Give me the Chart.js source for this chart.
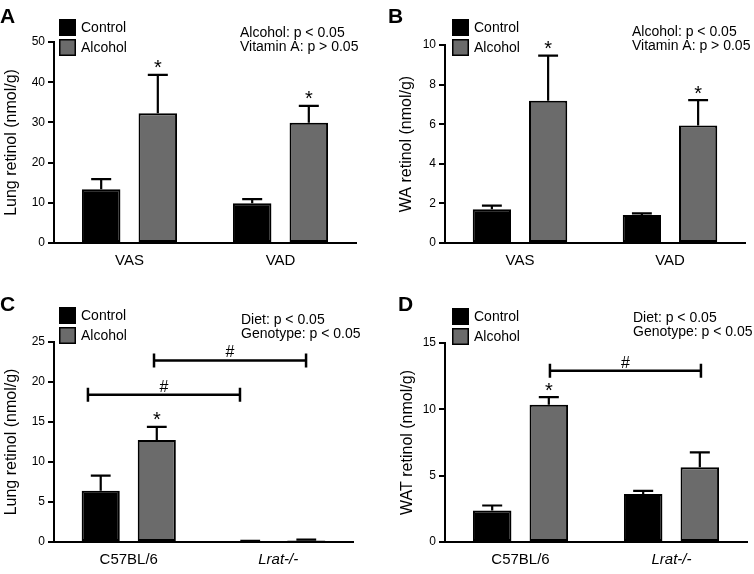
<!DOCTYPE html>
<html>
<head>
<meta charset="utf-8">
<script src="https://cdn.jsdelivr.net/npm/chart.js@4.4.0/dist/chart.umd.min.js"></script>
<style>
html,body{margin:0;padding:0;background:#fff;}
#wrap{position:relative;width:754px;height:574px;overflow:hidden;}
canvas{position:absolute;}
</style>
</head>
<body>
<div id="wrap">
<canvas id="cA" width="377" height="290" style="left:0;top:0;width:377px;height:290px"></canvas>
<canvas id="cB" width="377" height="290" style="left:377px;top:0;width:377px;height:290px"></canvas>
<canvas id="cC" width="377" height="284" style="left:0;top:290px;width:377px;height:284px"></canvas>
<canvas id="cD" width="377" height="284" style="left:377px;top:290px;width:377px;height:284px"></canvas>
</div>
<script>
// ---------- DATA ----------
const seriesNames = ['Control', 'Alcohol'];
const seriesColors = ['#000000', '#6b6b6b'];

const catsVitA = ['VAS', 'VAD'];
const catsGeno = ['C57BL/6', 'Lrat-/-'];
const catsGenoItalic = [false, true];

// Panel A: lung retinol, vitamin A status
const lungVitControl = [13.4, 9.9];
const lungVitControlErr = [2.5, 1.0];
const lungVitAlcohol = [32.3, 29.9];
const lungVitAlcoholErr = [9.5, 4.2];
const lungVitStars = [[false, false], [true, true]];
const lungVitTicks = [0, 10, 20, 30, 40, 50];
const lungVitStats = ['Alcohol: p < 0.05', 'Vitamin A: p > 0.05'];

// Panel B: WA retinol, vitamin A status
const waVitControl = [1.70, 1.41];
const waVitControlErr = [0.19, 0.09];
const waVitAlcohol = [7.19, 5.93];
const waVitAlcoholErr = [2.27, 1.29];
const waVitStars = [[false, false], [true, true]];
const waVitTicks = [0, 2, 4, 6, 8, 10];
const waVitStats = ['Alcohol: p < 0.05', 'Vitamin A: p > 0.05'];

// Panel C: lung retinol, genotype
const lungGenoControl = [6.4, 0.1];
const lungGenoControlErr = [1.9, 0.05];
const lungGenoAlcohol = [12.75, 0.2];
const lungGenoAlcoholErr = [1.65, 0.1];
const lungGenoStars = [[false, false], [true, false]];
const lungGenoTicks = [0, 5, 10, 15, 20, 25];
const lungGenoStats = ['Diet: p < 0.05', 'Genotype: p < 0.05'];
// brackets: [from (category index), to (category index), level (value)]
const lungGenoBrackets = [[-0.273, 0.744, 18.4], [0.169, 1.186, 22.7]];

// Panel D: WAT retinol, genotype
const watGenoControl = [2.37, 3.62];
const watGenoControlErr = [0.38, 0.23];
const watGenoAlcohol = [10.35, 5.63];
const watGenoAlcoholErr = [0.57, 1.12];
const watGenoStars = [[false, false], [true, false]];
const watGenoTicks = [0, 5, 10, 15];
const watGenoStats = ['Diet: p < 0.05', 'Genotype: p < 0.05'];
const watGenoBrackets = [[0.195, 1.195, 12.9]];

// ---------- RENDERING ----------
const FONT = '"Liberation Sans", Arial, Helvetica, sans-serif';
Chart.defaults.font.family = FONT;
Chart.defaults.color = '#000';

const decor = {
  id: 'decor',
  afterDatasetsDraw(chart, args, o) {
    const ctx = chart.ctx, ys = chart.scales.y, xs = chart.scales.x;
    ctx.save();
    ctx.strokeStyle = '#000';
    ctx.fillStyle = '#000';
    ctx.lineWidth = 2.2;
    chart.data.datasets.forEach((ds, i) => {
      const meta = chart.getDatasetMeta(i);
      meta.data.forEach((el, j) => {
        const v = ds.data[j], e = o.errors[i][j];
        const yTop = ys.getPixelForValue(v + e);
        const half = el.width * 0.26;
        ctx.beginPath();
        ctx.moveTo(el.x, el.y);
        ctx.lineTo(el.x, yTop);
        ctx.moveTo(el.x - half, yTop);
        ctx.lineTo(el.x + half, yTop);
        ctx.stroke();
        if (o.stars[i][j]) {
          ctx.font = '20px ' + FONT;
          ctx.textAlign = 'center';
          ctx.textBaseline = 'alphabetic';
          ctx.fillText('*', el.x, yTop - 0.5);
        }
      });
    });
    (o.brackets || []).forEach(b => {
      const x1 = xs.getPixelForValue(b[0]);
      const x2 = xs.getPixelForValue(b[1]);
      const y = ys.getPixelForValue(b[2]);
      ctx.lineWidth = 2.5;
      ctx.beginPath();
      ctx.moveTo(x1, y); ctx.lineTo(x2, y);
      ctx.moveTo(x1, y - 7); ctx.lineTo(x1, y + 7);
      ctx.moveTo(x2, y - 7); ctx.lineTo(x2, y + 7);
      ctx.stroke();
      ctx.font = '16px ' + FONT;
      ctx.textAlign = 'center';
      ctx.textBaseline = 'alphabetic';
      ctx.fillText('#', (x1 + x2) / 2, y - 3);
    });
    ctx.restore();
  },
  afterDraw(chart, args, o) {
    const ctx = chart.ctx;
    ctx.save();
    // panel letter
    ctx.font = 'bold 21px ' + FONT;
    ctx.textAlign = 'left';
    ctx.textBaseline = 'alphabetic';
    ctx.fillStyle = '#000';
    ctx.fillText(o.letter, o.letterX, o.letterY);
    // legend
    chart.data.datasets.forEach((ds, i) => {
      const y = o.legendY + i * 20;
      ctx.fillStyle = ds.backgroundColor;
      ctx.fillRect(o.legendX, y, 17, 17);
      ctx.strokeStyle = '#000';
      ctx.lineWidth = 1.5;
      ctx.strokeRect(o.legendX + 0.75, y + 0.75, 15.5, 15.5);
      ctx.fillStyle = '#000';
      ctx.font = '14px ' + FONT;
      ctx.textBaseline = 'middle';
      ctx.fillText(ds.label, o.legendX + 22, y + 9);
    });
    // stats text
    ctx.font = '14px ' + FONT;
    ctx.textBaseline = 'middle';
    o.stats.forEach((t, k) => ctx.fillText(t, o.statX, o.statY + k * 14.5));
    ctx.restore();
  }
};

function makePanel(p) {
  const canvas = document.getElementById(p.id);
  const W = canvas.width, H = canvas.height;
  new Chart(canvas, {
    type: 'bar',
    data: {
      labels: p.labels,
      datasets: p.series.map((vals, i) => ({
        label: seriesNames[i],
        data: vals,
        backgroundColor: seriesColors[i],
        borderColor: '#000',
        borderWidth: 2,
        borderSkipped: false,
        barPercentage: 0.68,
        categoryPercentage: 0.75
      }))
    },
    options: {
      responsive: false,
      animation: false,
      events: [],
      layout: { padding: { left: p.yBoxLeft, top: p.area.top, right: W - p.area.right, bottom: 0 } },
      plugins: {
        legend: { display: false },
        tooltip: { enabled: false },
        decor: {
          errors: p.errors, stars: p.stars, brackets: p.brackets,
          letter: p.letter, letterX: p.letterX, letterY: p.letterY,
          legendX: p.legendX, legendY: p.legendY,
          stats: p.stats, statX: p.statX, statY: p.statY
        }
      },
      scales: {
        x: {
          type: 'category',
          offset: true,
          afterFit: s => { s.height = H - p.area.bottom; },
          grid: { display: false, drawTicks: false, drawOnChartArea: false },
          border: { display: true, color: '#000', width: 2 },
          ticks: {
            color: '#000', padding: 9, maxRotation: 0, autoSkip: false,
            font: c => ({ size: 15, style: (p.italic && p.italic[c.index]) ? 'italic' : 'normal' })
          }
        },
        y: {
          type: 'linear',
          min: p.ticks[0],
          max: p.ticks[p.ticks.length - 1],
          afterBuildTicks: s => { s.ticks = p.ticks.map(v => ({ value: v })); },
          afterFit: s => { s.width = p.area.left - p.yBoxLeft; },
          grid: { drawOnChartArea: false, drawTicks: true, tickLength: 6, color: '#000', lineWidth: 2 },
          border: { display: true, color: '#000', width: 2 },
          ticks: { color: '#000', padding: 3, font: { size: 12 } },
          title: { display: true, text: p.yTitle, color: '#000', font: { size: 16 }, padding: { top: 2, bottom: 0 } }
        }
      }
    },
    plugins: [decor]
  });
}

makePanel({
  id: 'cA', letter: 'A', labels: catsVitA,
  series: [lungVitControl, lungVitAlcohol],
  errors: [lungVitControlErr, lungVitAlcoholErr],
  stars: lungVitStars, ticks: lungVitTicks, stats: lungVitStats,
  yTitle: 'Lung retinol (nmol/g)',
  area: { left: 54, top: 42, right: 356, bottom: 243 }, yBoxLeft: 0,
  letterX: 0, letterY: 23, legendX: 59, legendY: 19, statX: 240, statY: 33
});
makePanel({
  id: 'cB', letter: 'B', labels: catsVitA,
  series: [waVitControl, waVitAlcohol],
  errors: [waVitControlErr, waVitAlcoholErr],
  stars: waVitStars, ticks: waVitTicks, stats: waVitStats,
  yTitle: 'WA retinol (nmol/g)',
  area: { left: 68, top: 45, right: 368, bottom: 243 }, yBoxLeft: 18,
  letterX: 11, letterY: 23, legendX: 75, legendY: 19, statX: 255, statY: 32
});
makePanel({
  id: 'cC', letter: 'C', labels: catsGeno, italic: catsGenoItalic,
  series: [lungGenoControl, lungGenoAlcohol],
  errors: [lungGenoControlErr, lungGenoAlcoholErr],
  stars: lungGenoStars, ticks: lungGenoTicks, stats: lungGenoStats,
  brackets: lungGenoBrackets,
  yTitle: 'Lung retinol (nmol/g)',
  area: { left: 54, top: 52, right: 353, bottom: 252 }, yBoxLeft: 0,
  letterX: 0, letterY: 21, legendX: 59, legendY: 17, statX: 241, statY: 30
});
makePanel({
  id: 'cD', letter: 'D', labels: catsGeno, italic: catsGenoItalic,
  series: [watGenoControl, watGenoAlcohol],
  errors: [watGenoControlErr, watGenoAlcoholErr],
  stars: watGenoStars, ticks: watGenoTicks, stats: watGenoStats,
  brackets: watGenoBrackets,
  yTitle: 'WAT retinol (nmol/g)',
  area: { left: 68, top: 53, right: 370, bottom: 252 }, yBoxLeft: 19,
  letterX: 21, letterY: 21, legendX: 75, legendY: 18, statX: 256, statY: 28
});
</script>
</body>
</html>
